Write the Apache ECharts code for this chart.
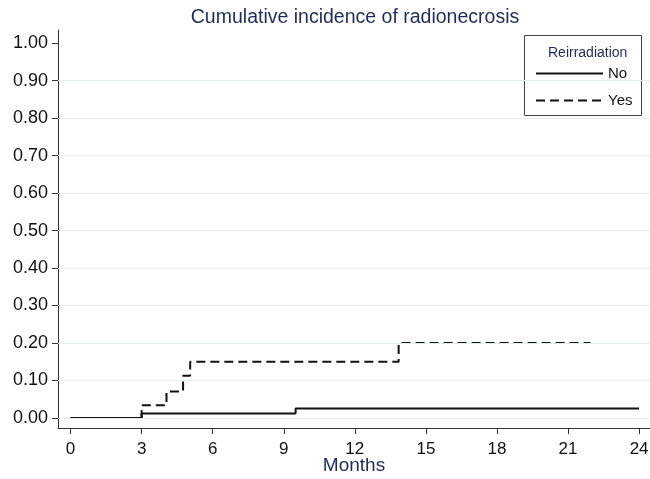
<!DOCTYPE html>
<html>
<head>
<meta charset="utf-8">
<script src="https://cdn.jsdelivr.net/npm/echarts@6/dist/echarts.min.js"></script>
<style>
html,body{margin:0;padding:0;background:#fff;}
#chart{width:650px;height:479px;}
</style>
</head>
<body>
<div id="chart"></div>
<script>
// ---- data ----
const titleText = "Cumulative incidence of radionecrosis";
const xAxisName = "Months";
const legendTitle = "Reirradiation";
const seriesNames = ["No", "Yes"];
// step points [month, cumulative incidence]
const noMonths  = [0, 3, 9.5, 24];
const noValues  = [0, 0.012, 0.025, 0.025];
const yesMonths = [0, 3, 4.05, 4.75, 5.05, 13.85, 21.95];
const yesValues = [0, 0.034, 0.071, 0.113, 0.15, 0.20, 0.20];
const xTicks = [0, 3, 6, 9, 12, 15, 18, 21, 24];
const yTicks = [0, 0.1, 0.2, 0.3, 0.4, 0.5, 0.6, 0.7, 0.8, 0.9, 1.0];
const yGridValues = [0, 0.1, 0.2, 0.3, 0.4, 0.5, 0.6, 0.7, 0.8, 0.9];

const pair = (xs, ys) => xs.map((x, i) => [x, ys[i]]);
const FONT = "'Liberation Sans', Arial, Helvetica, sans-serif";
const NAVY = "#1e2c57";

const chart = echarts.init(document.getElementById('chart'), null, {renderer: 'canvas'});
chart.setOption({
  animation: false,
  backgroundColor: '#ffffff',
  title: {
    text: titleText,
    left: 350, top: 3, textAlign: 'center',
    textStyle: {fontFamily: FONT, fontSize: 19.5, fontWeight: 'normal', color: NAVY}
  },
  grid: {left: 58, right: 0, top: 30, bottom: 51, containLabel: false, outerBoundsMode: 'none'},
  xAxis: {
    type: 'value', min: -0.53, max: 24.46,
    name: xAxisName, nameLocation: 'middle', nameGap: 28, nameMoveOverlap: false,
    nameTextStyle: {fontFamily: FONT, fontSize: 19, color: NAVY},
    axisLine: {show: true, onZero: false, lineStyle: {color: '#333', width: 1}},
    axisTick: {show: true, length: 6, customValues: xTicks, lineStyle: {color: '#333'}},
    axisLabel: {customValues: xTicks, margin: 13, fontFamily: FONT, fontSize: 17, color: '#111'},
    splitLine: {show: false}
  },
  yAxis: {
    type: 'value', min: -0.0267, max: 1.035,
    axisLine: {show: true, onZero: false, lineStyle: {color: '#333', width: 1}},
    axisTick: {show: true, length: 6, customValues: yTicks, lineStyle: {color: '#333'}},
    axisLabel: {customValues: yTicks, margin: 10, fontFamily: FONT, fontSize: 18, color: '#111',
      formatter: v => v.toFixed(2)},
    splitLine: {show: false}
  },
  legend: {
    orient: 'vertical', left: 530, top: 61, z: 20,
    itemWidth: 67, itemHeight: 14, itemGap: 12,
    data: seriesNames,
    itemStyle: {opacity: 0},
    textStyle: {fontFamily: FONT, fontSize: 15, color: '#111'},
    selectedMode: false
  },
  graphic: [
    {type: 'rect', left: 524, top: 35, z: 5,
      shape: {width: 117, height: 80},
      style: {fill: '#fff', stroke: '#444', lineWidth: 1}},
    {type: 'text', z: 21,
      left: 548, top: 46,
      style: {text: legendTitle, fontFamily: FONT, fontSize: 14, fill: NAVY}}
  ],
  series: [
    {
      type: 'line', name: '_grid', data: [], z: 1, silent: true,
      markLine: {
        silent: true, symbol: 'none', label: {show: false},
        lineStyle: {color: '#e3ecef', width: 1, type: 'solid'},
        data: yGridValues.map(v => ({yAxis: v}))
      }
    },
    {
      type: 'line', name: seriesNames[0], step: 'end', symbol: 'none', z: 3,
      data: pair(noMonths, noValues),
      lineStyle: {color: '#111', width: 2, type: 'solid'},
      itemStyle: {color: '#111'}
    },
    {
      type: 'line', name: seriesNames[1], step: 'end', symbol: 'none', z: 2,
      data: pair(yesMonths, yesValues),
      lineStyle: {color: '#111', width: 2, type: [9, 5]},
      itemStyle: {color: '#111'}
    }
  ]
});
</script>
</body>
</html>
